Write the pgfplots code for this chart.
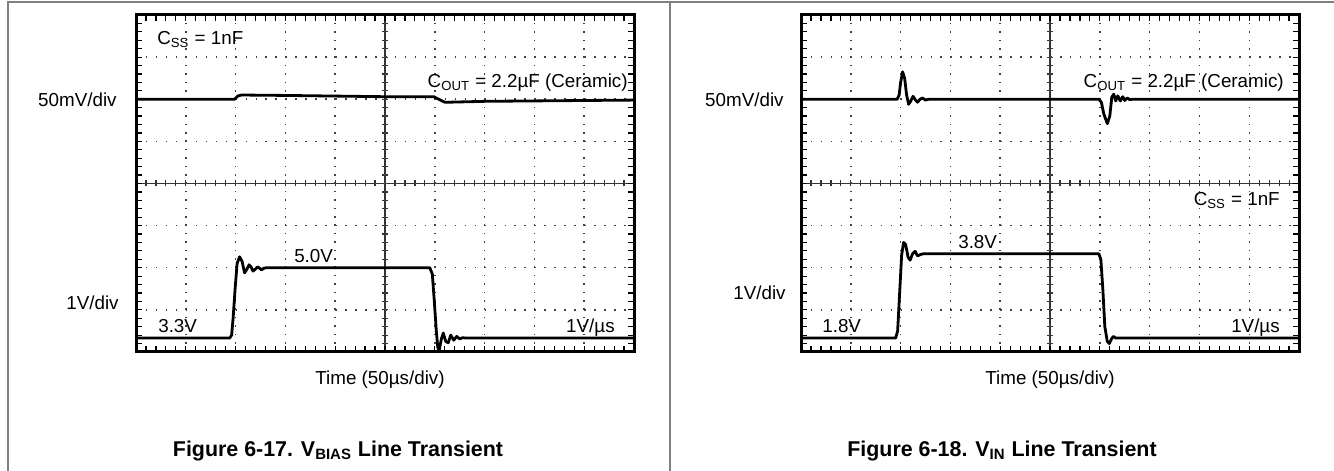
\documentclass[border=0pt]{standalone}
\usepackage{fontspec}
\setmainfont{Liberation Sans}
\usepackage{pgfplots}
\usepackage{pgfplotstable}
\pgfplotsset{compat=1.18}

\pgfplotstableread{
x y
0 6.0
1.98 6.0
2.05 6.08
2.12 6.1
3 6.09
4 6.075
5 6.06
5.98 6.06
6.06 6.01
6.2 5.93
6.3 5.93
7 5.95
8 5.96
9 5.97
10 5.98
}\LTop

\pgfplotstableread{
x y
0 0.33
1.88 0.33
1.92 0.4
1.95 0.8
1.99 1.5
2.03 2.1
2.08 2.26
2.13 2.15
2.18 1.88
2.22 1.95
2.27 2.07
2.31 2.02
2.35 1.92
2.40 1.97
2.44 2.02
2.48 1.99
2.52 1.95
2.57 1.99
2.62 2.0
5.9 2.0
5.95 1.85
5.99 1.2
6.03 0.5
6.06 0.1
6.09 0.05
6.13 0.3
6.17 0.45
6.22 0.25
6.27 0.22
6.32 0.4
6.38 0.28
6.44 0.37
6.50 0.31
6.56 0.34
6.62 0.33
10 0.33
}\LBot

\pgfplotstableread{
x y
0 6.0
1.93 6.0
1.97 6.1
2.0 6.4
2.04 6.65
2.08 6.5
2.12 6.1
2.16 5.88
2.2 5.95
2.25 6.07
2.3 5.98
2.34 5.93
2.39 6.0
2.44 6.03
2.5 5.98
2.56 6.0
5.98 6.0
6.03 5.93
6.08 5.65
6.15 5.42
6.2 5.6
6.24 6.05
6.28 6.12
6.32 5.96
6.36 6.08
6.41 5.96
6.46 6.06
6.5 5.97
6.55 6.03
6.6 5.99
6.66 6.0
10 6.0
}\RTop

\pgfplotstableread{
x y
0 0.33
1.9 0.33
1.94 0.5
1.98 1.4
2.02 2.3
2.06 2.6
2.1 2.55
2.15 2.25
2.19 2.18
2.24 2.33
2.29 2.39
2.34 2.28
2.39 2.31
2.45 2.33
5.98 2.33
6.02 2.2
6.06 1.5
6.1 0.6
6.15 0.25
6.19 0.2
6.23 0.3
6.27 0.37
6.32 0.33
10 0.33
}\RBot

\newcommand\lab{\fontsize{9.4bp}{11bp}\selectfont}
\newcommand\capfont{\fontsize{10.7bp}{12bp}\selectfont\bfseries}

\pgfplotsset{
  scope frame/.style={
    scale only axis, width=249bp, height=168.5bp,
    xmin=0, xmax=10, ymin=0, ymax=8,
    xtick={0,...,10}, ytick={0,...,8},
    minor x tick num=4, minor y tick num=4,
    xticklabels={}, yticklabels={},
    tick align=inside,
    major tick length=3bp, minor tick length=3bp,
    every tick/.style={black, line width=0.6bp},
    grid=major,
    x grid style={black!75, line width=0.75bp, dash pattern=on 0.75bp off 3.45bp},
    y grid style={black!75, line width=0.75bp, dash pattern=on 0.75bp off 4.23bp},
    axis line style={black, line width=1.5bp},
    clip=false,
  },
  scope center/.style={
    scale only axis, width=249bp, height=168.5bp,
    xmin=-5, xmax=5, ymin=-4, ymax=4,
    axis lines=middle,
    axis line style={-, black!80, line width=0.6bp},
    xtick={-5,...,5}, ytick={-4,...,4},
    minor x tick num=4, minor y tick num=4,
    xticklabels={}, yticklabels={},
    tick align=center,
    major tick length=3bp, minor tick length=3bp,
    every tick/.style={black!80, line width=0.6bp},
  },
  trace/.style={black, line width=1.4bp, line join=round, no marks},
}

\begin{document}
\begin{tikzpicture}[x=0.5bp, y=0.5bp]
\useasboundingbox (0,0) rectangle (1334,471);
% panel borders
\draw[black!50, line width=1bp] (8,0) -- (8,469) -- (1334,469);
\draw[black!50, line width=1bp] (670,469) -- (670,0);

% ---------- left plot ----------
\begin{axis}[scope center, at={(68bp,59.5bp)}, anchor=south west]
\end{axis}
\begin{axis}[scope frame, at={(68bp,59.5bp)}, anchor=south west]
\addplot[trace] table {\LTop};
\addplot[trace] table {\LBot};
\node[anchor=base west, inner sep=0pt, font=\lab] at (axis cs:0.42,7.29) {C\textsubscript{SS} = 1nF};
\node[anchor=base east, inner sep=0pt, font=\lab] at (axis cs:9.88,6.28) {C\textsubscript{OUT} = 2.2µF (Ceramic)};
\node[anchor=base west, inner sep=0pt, font=\lab] at (axis cs:3.17,2.12) {5.0V};
\node[anchor=base west, inner sep=0pt, font=\lab] at (axis cs:0.44,0.46) {3.3V};
\node[anchor=base east, inner sep=0pt, font=\lab] at (axis cs:9.62,0.46) {1V/µs};
\end{axis}
\node[anchor=base east, inner sep=0pt, font=\lab] at (117,364.5) {50mV/div};
\node[anchor=base east, inner sep=0pt, font=\lab] at (119,161) {1V/div};
\node[anchor=base, inner sep=0pt, font=\lab] at (380,86) {Time (50µs/div)};
\node[anchor=base, inner sep=0pt, font=\capfont] at (338,14.3) {Figure 6-17. V\textsubscript{BIAS} Line Transient};

% ---------- right plot ----------
\begin{axis}[scope center, at={(400.5bp,59.5bp)}, anchor=south west]
\end{axis}
\begin{axis}[scope frame, at={(400.5bp,59.5bp)}, anchor=south west]
\addplot[trace] table {\RTop};
\addplot[trace] table {\RBot};
\node[anchor=base east, inner sep=0pt, font=\lab] at (axis cs:9.7,6.28) {C\textsubscript{OUT} = 2.2µF (Ceramic)};
\node[anchor=base east, inner sep=0pt, font=\lab] at (axis cs:9.62,3.47) {C\textsubscript{SS} = 1nF};
\node[anchor=base west, inner sep=0pt, font=\lab] at (axis cs:3.15,2.46) {3.8V};
\node[anchor=base west, inner sep=0pt, font=\lab] at (axis cs:0.42,0.46) {1.8V};
\node[anchor=base east, inner sep=0pt, font=\lab] at (axis cs:9.62,0.46) {1V/µs};
\end{axis}
\node[anchor=base east, inner sep=0pt, font=\lab] at (784,364.5) {50mV/div};
\node[anchor=base east, inner sep=0pt, font=\lab] at (786,171) {1V/div};
\node[anchor=base, inner sep=0pt, font=\lab] at (1050,86) {Time (50µs/div)};
\node[anchor=base, inner sep=0pt, font=\capfont] at (1002,14.3) {Figure 6-18. V\textsubscript{IN} Line Transient};
\end{tikzpicture}
\end{document}
